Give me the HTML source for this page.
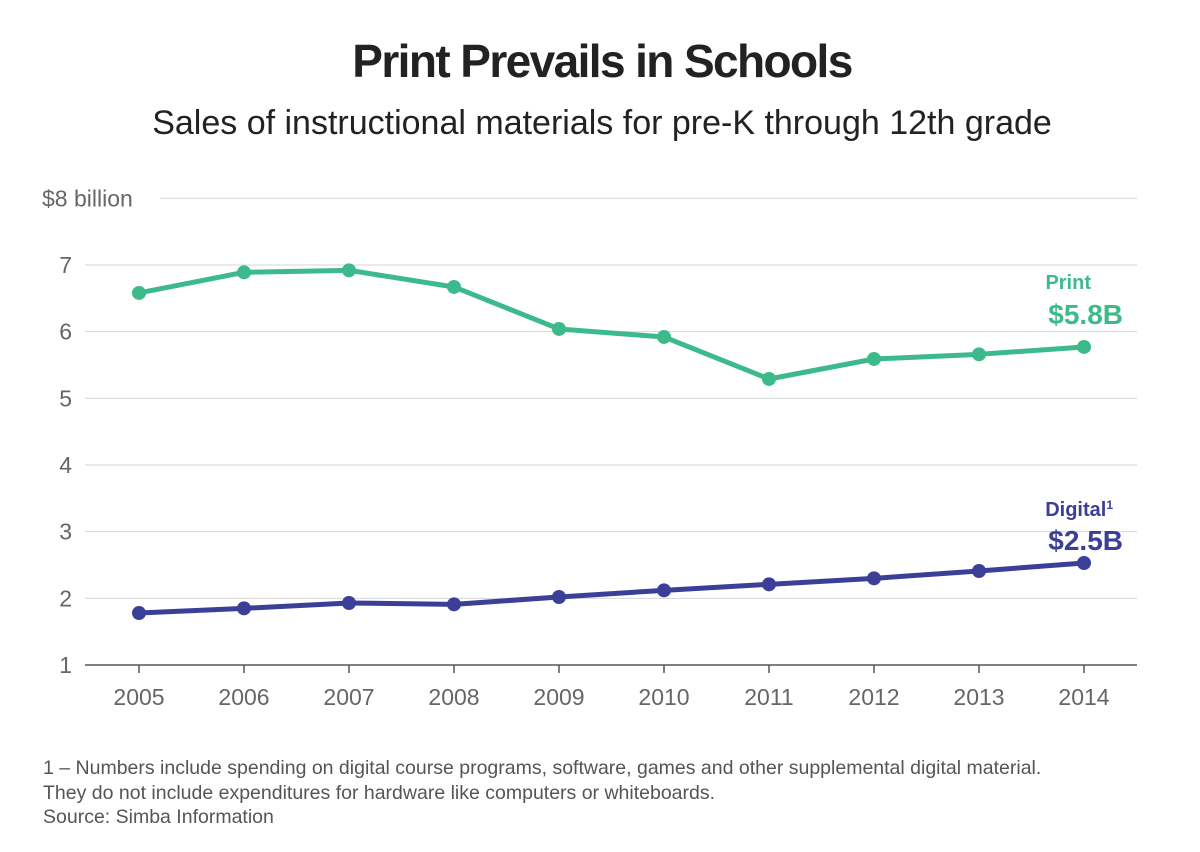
<!DOCTYPE html>
<html><head><meta charset="utf-8"><style>
body{margin:0;background:#fff;}
svg{display:block;font-family:"Liberation Sans",sans-serif;}
</style></head><body>
<svg id="chart" width="1200" height="852">
<text x="602" y="77" text-anchor="middle" font-size="46" font-weight="bold" fill="#222" letter-spacing="-1.6">Print Prevails in Schools</text>
<text x="602" y="134" text-anchor="middle" font-size="34" fill="#222">Sales of instructional materials for pre-K through 12th grade</text>
<g id="grid"></g><g id="series"></g>
<text x="1091" y="289" text-anchor="end" font-size="20" font-weight="bold" fill="#3dba8c">Print</text>
<text x="1123" y="324" text-anchor="end" font-size="28" font-weight="bold" fill="#3dba8c">$5.8B</text>
<text x="1113" y="516" text-anchor="end" font-size="20" font-weight="bold" fill="#3b3f98">Digital<tspan font-size="12" dy="-7">1</tspan></text>
<text x="1123" y="550" text-anchor="end" font-size="28" font-weight="bold" fill="#3b3f98">$2.5B</text>
<g font-size="19.5" fill="#555">
<text x="43" y="774">1 – Numbers include spending on digital course programs, software, games and other supplemental digital material.</text>
<text x="43" y="799">They do not include expenditures for hardware like computers or whiteboards.</text>
<text x="43" y="823">Source: Simba Information</text></g>
</svg>
<script>
const years=[2005,2006,2007,2008,2009,2010,2011,2012,2013,2014];
const printVals=[6.58,6.89,6.92,6.67,6.04,5.92,5.29,5.59,5.66,5.77];
const digitalVals=[1.78,1.85,1.93,1.91,2.02,2.12,2.21,2.30,2.41,2.53];
const yTicks=[1,2,3,4,5,6,7,8];
const yTickLabels=["1","2","3","4","5","6","7","$8 billion"];
const NS="http://www.w3.org/2000/svg";
const x=v=>139+(v-2005)*105;
const y=v=>665-(v-1)*66.67;
function mk(t,a,p){const e=document.createElementNS(NS,t);for(const k in a)e.setAttribute(k,a[k]);p.appendChild(e);return e;}
const g=document.getElementById('grid'),s=document.getElementById('series');
yTicks.forEach((t,i)=>{
 const l=mk('line',{x1:t===8?160:85,x2:1137,y1:y(t),y2:y(t),stroke:t===1?'#555':'#d6d6d6','stroke-width':t===1?1.5:1},g);
 
 
 const tx=mk('text',{x:t===8?42:72,y:y(t)+8,'text-anchor':t===8?'start':'end','font-size':23,fill:'#666','font-weight':t===8?'normal':'normal'},g);
 tx.textContent=yTickLabels[i];
 
 
});
years.forEach(yr=>{
 const tk=mk('line',{x1:x(yr),x2:x(yr),y1:665,y2:673,stroke:'#555','stroke-width':1.5},g);
 
 
 const tx=mk('text',{x:x(yr),y:705,'text-anchor':'middle','font-size':23,fill:'#666'},g);
 tx.textContent=yr;
 
 
});
function series(vals,color,name){
 const p=mk('polyline',{points:vals.map((v,i)=>x(years[i])+','+y(v)).join(' '),fill:'none',stroke:color,'stroke-width':5,'stroke-linejoin':'round'},s);
 
 
 vals.forEach((v,i)=>{
  const c=mk('circle',{cx:x(years[i]),cy:y(v),r:7,fill:color},s);
  
  
 });
}
series(printVals,'#3dba8c','print');
series(digitalVals,'#3b3f98','digital');
</script>
</body></html>
